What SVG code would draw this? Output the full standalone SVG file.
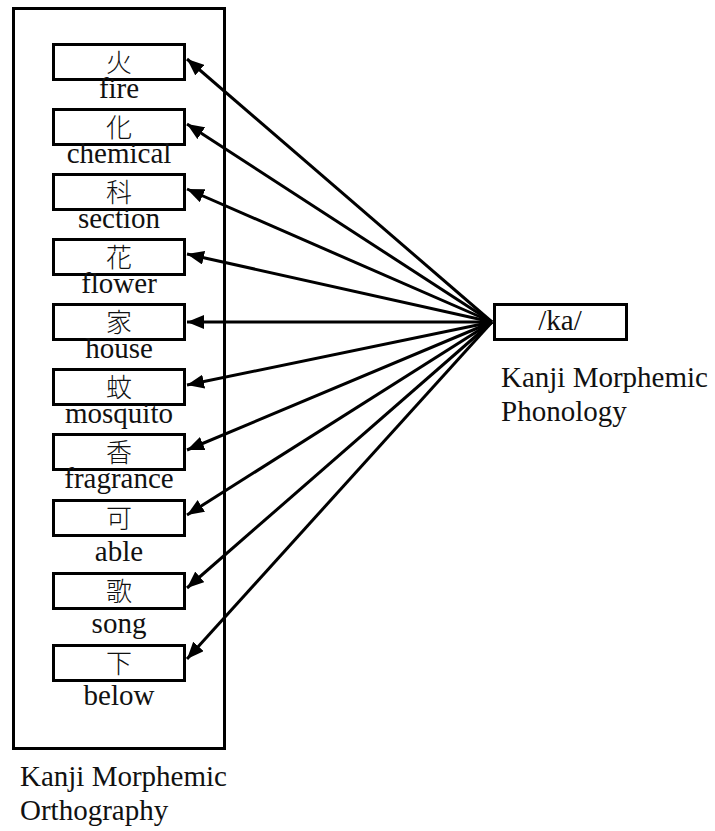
<svg xmlns="http://www.w3.org/2000/svg" width="715" height="831" viewBox="0 0 715 831">
<defs>
<marker id="ah" markerUnits="userSpaceOnUse" markerWidth="18" markerHeight="14" refX="17" refY="7" orient="auto">
<path d="M0,0 L17,7 L0,14 z" fill="#000"/>
</marker>
<style>
.box{fill:#fff;stroke:#000;stroke-width:3}
.frame{fill:none;stroke:#000;stroke-width:3}
.c{text-anchor:middle}
.ln{stroke:#000;stroke-width:3;fill:none;marker-end:url(#ah)}
</style>
</defs>
<rect width="715" height="831" fill="#fff"/>
<g font-family="'Liberation Serif', 'Times New Roman', Times, serif" font-size="29" fill="#111">
<g id="orthography">
<rect class="frame" x="13.5" y="8.5" width="211" height="740"/>
<text x="20" y="786">Kanji Morphemic</text>
<text x="20" y="820">Orthography</text>
</g>
<g id="n-fire"><rect class="box" x="53.5" y="44.5" width="131" height="35"/><text class="k" x="119" y="72">火</text><text class="c" x="119" y="98">fire</text></g>
<g id="n-chemical"><rect class="box" x="53.5" y="109.5" width="131" height="35"/><text class="k" x="119" y="137">化</text><text class="c" x="119" y="163">chemical</text></g>
<g id="n-section"><rect class="box" x="53.5" y="174.5" width="131" height="35"/><text class="k" x="119" y="202">科</text><text class="c" x="119" y="228">section</text></g>
<g id="n-flower"><rect class="box" x="53.5" y="239.5" width="131" height="35"/><text class="k" x="119" y="267">花</text><text class="c" x="119" y="293">flower</text></g>
<g id="n-house"><rect class="box" x="53.5" y="304.5" width="131" height="35"/><text class="k" x="119" y="332">家</text><text class="c" x="119" y="358">house</text></g>
<g id="n-mosquito"><rect class="box" x="53.5" y="369.5" width="131" height="35"/><text class="k" x="119" y="397">蚊</text><text class="c" x="119" y="423">mosquito</text></g>
<g id="n-fragrance"><rect class="box" x="53.5" y="434.5" width="131" height="35"/><text class="k" x="119" y="462">香</text><text class="c" x="119" y="488">fragrance</text></g>
<g id="n-able"><rect class="box" x="53.5" y="500.5" width="131" height="35"/><text class="k" x="119" y="528">可</text><text class="c" x="119" y="561">able</text></g>
<g id="n-song"><rect class="box" x="53.5" y="573.5" width="131" height="35"/><text class="k" x="119" y="601">歌</text><text class="c" x="119" y="633">song</text></g>
<g id="n-below"><rect class="box" x="53.5" y="645.5" width="131" height="35"/><text class="k" x="119" y="673">下</text><text class="c" x="119" y="705">below</text></g>
<g id="n-ka">
<rect class="box" x="494.5" y="304.5" width="132" height="35"/>
<text class="c" x="560" y="330">/ka/</text>
<text x="501" y="387">Kanji Morphemic</text>
<text x="501" y="421">Phonology</text>
</g>
</g>
<style>
.k{font-family:"Noto Sans CJK JP","Noto Sans CJK SC",sans-serif;font-size:26px;text-anchor:middle;font-weight:300}
</style>
<g id="connectors">
<line class="ln" x1="492" y1="322" x2="187" y2="59"/>
<line class="ln" x1="492" y1="322" x2="187" y2="124"/>
<line class="ln" x1="492" y1="322" x2="187" y2="189"/>
<line class="ln" x1="492" y1="322" x2="187" y2="254"/>
<line class="ln" x1="492" y1="322" x2="187" y2="322"/>
<line class="ln" x1="492" y1="322" x2="187" y2="385"/>
<line class="ln" x1="492" y1="322" x2="187" y2="450"/>
<line class="ln" x1="492" y1="322" x2="187" y2="515"/>
<line class="ln" x1="492" y1="322" x2="187" y2="588"/>
<line class="ln" x1="492" y1="322" x2="187" y2="659"/>
</g>
</svg>
